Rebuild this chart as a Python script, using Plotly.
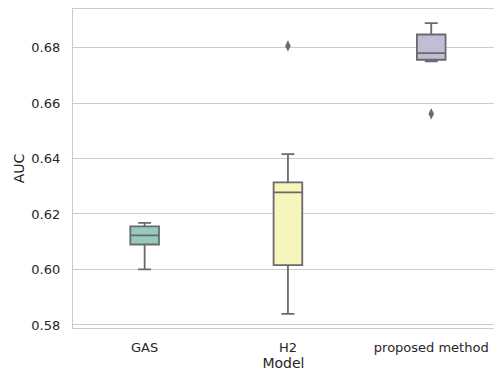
import plotly.graph_objects as go

categories = ["GAS", "H2", "proposed method"]
lower_whisker = [0.600, 0.584, 0.675]
q1_vals = [0.609, 0.6016, 0.6756]
median_vals = [0.6123, 0.6278, 0.678]
q3_vals = [0.6155, 0.6314, 0.6847]
upper_whisker = [0.6168, 0.6416, 0.6888]
outlier_cats = ["H2", "proposed method"]
outlier_vals = [0.6806, 0.6561]
fill_colors = ["#96cac1", "#f6f6bc", "#c1bdd6"]
line_gray = "#6a6a6a"

fig = go.Figure()
for i, c in enumerate(categories):
    fig.add_trace(go.Box(
        x=[c], q1=[q1_vals[i]], median=[median_vals[i]], q3=[q3_vals[i]],
        lowerfence=[lower_whisker[i]], upperfence=[upper_whisker[i]],
        fillcolor=fill_colors[i], line=dict(color=line_gray, width=1.8),
        width=0.2, whiskerwidth=0.45, boxpoints=False, showlegend=False,
        hoverinfo="skip",
    ))
fig.add_trace(go.Scatter(
    x=outlier_cats, y=outlier_vals, mode="markers",
    marker=dict(symbol="diamond-tall", size=8, color=line_gray),
    showlegend=False, hoverinfo="skip",
))

fig.update_layout(
    width=494, height=374,
    margin=dict(l=73, r=0, t=9, b=46),
    plot_bgcolor="white", paper_bgcolor="white",
    font=dict(family="DejaVu Sans", size=13, color="#262626"),
)
fig.update_xaxes(
    type="category", categoryorder="array", categoryarray=categories,
    range=[-0.5, 2.438], showgrid=False, showline=True, mirror=True,
    linecolor="#cccccc", linewidth=1.3, ticks="", ticklabelstandoff=7,
    title=dict(text="Model", font=dict(size=14), standoff=2),
)
fig.update_yaxes(
    range=[0.5789, 0.6939], tickvals=[0.58, 0.60, 0.62, 0.64, 0.66, 0.68],
    tickformat=".2f", showgrid=True, gridcolor="#cccccc", gridwidth=1,
    showline=True, linecolor="#cccccc", linewidth=1.3, zeroline=False,
    ticks="", ticklabelstandoff=9,
    title=dict(text="AUC", font=dict(size=14), standoff=3),
)
fig.write_html("out.html")
